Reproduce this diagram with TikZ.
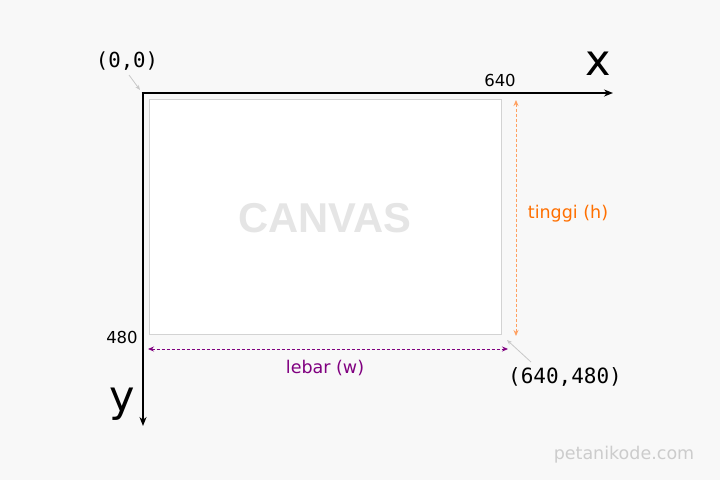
\documentclass[tikz,border=0pt]{standalone}
\usepackage{fontspec}
\setmainfont{DejaVu Sans}
\newfontfamily\monofont{DejaVu Sans Mono}
\newfontfamily\boldsans{Liberation Sans}
\usetikzlibrary{arrows.meta}
\definecolor{bg}{HTML}{F8F8F8}
\definecolor{orangec}{HTML}{FF6F00}
\definecolor{orangel}{HTML}{FFA060}
\definecolor{purplec}{HTML}{800080}
\definecolor{grayl}{HTML}{C8C8C8}
\begin{document}
\begin{tikzpicture}[x=1pt,y=-1pt,
  axis/.style={line width=2.6pt,-{Stealth[length=9pt,width=7pt]}},
  pointer/.style={draw=grayl,line width=0.8pt,-{Stealth[length=5pt,width=4pt]}},
  lbl/.style={inner sep=0pt,anchor=center}]
\fill[bg] (0,0) rectangle (720,480);
\useasboundingbox (0,0) rectangle (720,480);
\node[draw=grayl!80,fill=white,line width=0.8pt,minimum width=352pt,minimum height=235pt,inner sep=0pt] (canvas) at (325,216.5) {};
\node[lbl,text=black!10,font=\boldsans\bfseries\fontsize{41.7}{42}\selectfont] (ctext) at (325,218) {CANVAS};
\coordinate (o) at (143,93);
\coordinate (xe) at (613,93);
\coordinate (ye) at (143,426);
\draw[axis] ([xshift=-1.3pt]o) -- (xe);
\draw[axis] (o) -- (ye);
\node[lbl,font=\fontsize{43}{43}\selectfont] (xl) at (598,64) {x};
\node[lbl,font=\fontsize{43}{43}\selectfont] (yl) at (122,404) {y};
\node[lbl,font=\fontsize{16.5}{16.5}\selectfont] (n640) at (500,80) {640};
\node[lbl,font=\fontsize{16.5}{16.5}\selectfont] (n480) at (122,337) {480};
\node[lbl,font=\monofont\fontsize{20.7}{21}\selectfont] (zero) at (127,61) {(0,0)};
\node[lbl,font=\monofont\fontsize{21}{21}\selectfont] (end) at (565,377) {(640,480)};
\coordinate (p1s) at (129,75);
\coordinate (p1e) at (140,90);
\draw[pointer] (p1s) -- (p1e);
\coordinate (p2s) at (531,362);
\coordinate (p2e) at (507,340);
\draw[pointer] (p2s) -- (p2e);
\coordinate (ht) at (516,100);
\coordinate (hb) at (516,336);
\draw[orangel,line width=0.9pt,dash pattern=on 3pt off 2pt,{Stealth[length=6pt,width=5pt]}-{Stealth[length=6pt,width=5pt]}] (ht) -- (hb);
\node[lbl,text=orangec,font=\fontsize{17.5}{17.5}\selectfont] (hl) at (568,214) {tinggi (h)};
\coordinate (wl0) at (148,349);
\coordinate (wr0) at (508,349);
\draw[purplec,line width=0.8pt,dash pattern=on 3pt off 2pt,{Stealth[length=6pt,width=5pt]}-{Stealth[length=6pt,width=5pt]}] (wl0) -- (wr0);
\node[lbl,text=purplec,font=\fontsize{17.5}{17.5}\selectfont] (wl) at (325,368) {lebar (w)};
\node[lbl,text=black!20,font=\fontsize{17.5}{17.5}\selectfont] (wm) at (624,455) {petanikode.com};
\end{tikzpicture}
\end{document}
